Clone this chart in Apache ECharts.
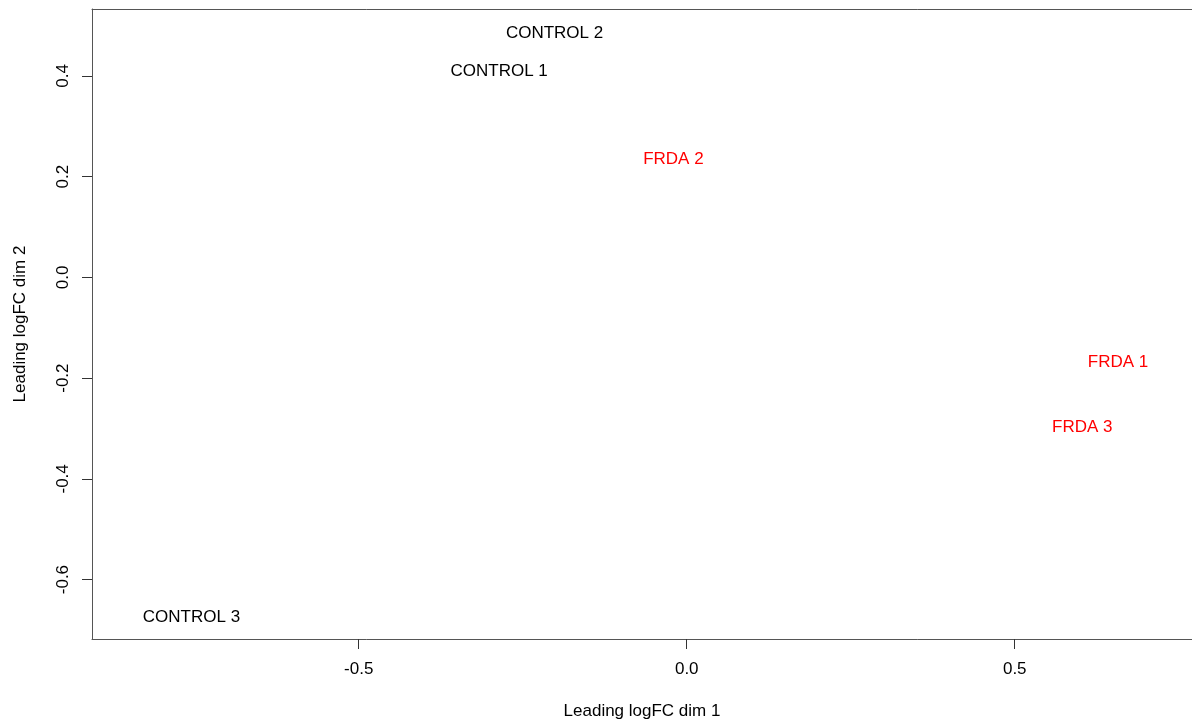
<!DOCTYPE html>
<html>
<head>
<meta charset="utf-8">
<title>MDS plot</title>
<script src="https://cdn.jsdelivr.net/npm/echarts@6/dist/echarts.min.js"></script>
<style>
  html, body { margin: 0; padding: 0; background: #ffffff; }
  #chart { width: 1192px; height: 725px; }
</style>
</head>
<body>
<div id="chart"></div>
<script>
// Sample labels and their MDS coordinates (leading logFC dims 1 and 2)
const controlNames = ['CONTROL 1', 'CONTROL 2', 'CONTROL 3'];
const controlDim1 = [-0.286, -0.2015, -0.755];
const controlDim2 = [0.411, 0.486, -0.673];

const frdaNames = ['FRDA 1', 'FRDA 2', 'FRDA 3'];
const frdaDim1 = [0.6575, -0.0204, 0.603];
const frdaDim2 = [-0.166, 0.2356, -0.295];

// Axis tick positions
const xTicks = [-0.5, 0.0, 0.5];
const yTicks = [-0.6, -0.4, -0.2, 0.0, 0.2, 0.4];

const FONT = '"Liberation Sans", Arial, Helvetica, sans-serif';
const AXIS_COLOR = '#555555';
const X_MIN = -0.9066, X_MAX = 0.7702;

function points(names, xs, ys) {
  return names.map((n, i) => ({ name: n, value: [xs[i], ys[i]] }));
}

function labelSeries(name, data, color) {
  return {
    name: name,
    type: 'scatter',
    data: data,
    symbolSize: 0,
    silent: true,
    itemStyle: { opacity: 1, color: color },
    label: {
      show: true,
      position: 'inside',
      formatter: p => p.name,
      color: color,
      opacity: 1,
      fontFamily: FONT,
      fontSize: 17,
      align: 'center',
      verticalAlign: 'middle',
      offset: [0, 1]
    }
  };
}

const chart = echarts.init(document.getElementById('chart'), null, { renderer: 'canvas' });

chart.setOption({
  animation: false,
  backgroundColor: '#ffffff',
  grid: {
    show: false,
    left: 92,
    top: 9,
    right: 0,
    bottom: 84
  },
  xAxis: [{
    type: 'value',
    position: 'bottom',
    min: X_MIN,
    max: X_MAX,
    name: 'Leading logFC dim 1',
    nameLocation: 'middle',
    nameGap: 64,
    nameTextStyle: { color: '#000', fontFamily: FONT, fontSize: 17 },
    splitLine: { show: false },
    axisLine: { show: true, onZero: false, lineStyle: { color: AXIS_COLOR, width: 1 } },
    axisTick: {
      show: true,
      inside: false,
      length: 10,
      customValues: xTicks,
      lineStyle: { color: '#333333', width: 1 }
    },
    axisLabel: {
      customValues: xTicks,
      margin: 22,
      color: '#000',
      fontFamily: FONT,
      fontSize: 17,
      formatter: v => v.toFixed(1)
    }
  }, {
    // top edge of the plot box
    type: 'value',
    position: 'top',
    min: X_MIN,
    max: X_MAX,
    splitLine: { show: false },
    axisLine: { show: true, onZero: false, lineStyle: { color: AXIS_COLOR, width: 1 } },
    axisTick: { show: false },
    axisLabel: { show: false }
  }],
  yAxis: {
    type: 'value',
    min: -0.718,
    max: 0.533,
    name: 'Leading logFC dim 2',
    nameLocation: 'middle',
    nameGap: 63,
    nameRotate: 90,
    nameTextStyle: { color: '#000', fontFamily: FONT, fontSize: 17 },
    splitLine: { show: false },
    axisLine: { show: true, onZero: false, lineStyle: { color: AXIS_COLOR, width: 1 } },
    axisTick: {
      show: true,
      inside: false,
      length: 10,
      customValues: yTicks,
      lineStyle: { color: '#333333', width: 1 }
    },
    axisLabel: {
      customValues: yTicks,
      rotate: 90,
      margin: 20,
      color: '#000',
      fontFamily: FONT,
      fontSize: 17,
      formatter: v => v.toFixed(1)
    }
  },
  series: [
    labelSeries('Control', points(controlNames, controlDim1, controlDim2), '#000000'),
    labelSeries('FRDA', points(frdaNames, frdaDim1, frdaDim2), '#ff0000')
  ]
});
</script>
</body>
</html>
